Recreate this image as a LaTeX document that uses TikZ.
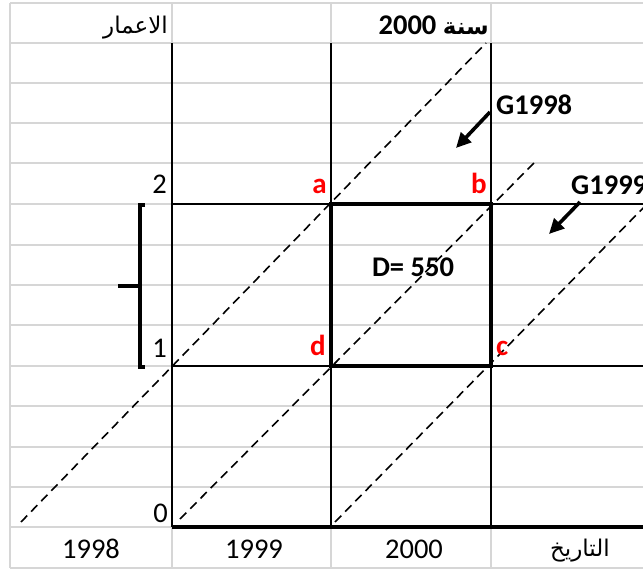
\documentclass[tikz,border=0pt]{standalone}
\usepackage{fontspec}
\setmainfont{Carlito}
\newfontfamily\arabicfont[Script=Arabic]{DejaVu Sans}
\TeXXeTstate=1
\usetikzlibrary{arrows.meta}
\definecolor{gridgray}{RGB}{214,214,214}
\definecolor{ptred}{RGB}{255,0,0}
\begin{document}
\begin{tikzpicture}[x=1pt,y=-1pt,
  gridline/.style={draw=gridgray, line width=2pt},
  blackline/.style={draw=black, line width=2.4pt},
  baseline3/.style={draw=black, line width=3.4pt},
  boxline/.style={draw=black, line width=4.5pt},
  lbl/.style={inner sep=0pt, font=\fontsize{28.5}{30}\selectfont},
  boldlbl/.style={inner sep=0pt, font=\fontsize{28.5}{30}\selectfont\bfseries},
  ptlbl/.style={inner sep=0pt, text=ptred, font=\fontsize{29}{30}\selectfont\bfseries},
  arlbl/.style={inner sep=0pt, font=\arabicfont\fontsize{23}{26}\selectfont},
  diag/.style={draw=black, dash pattern=on 9pt off 5.5pt, line width=1.6pt},
  pointer/.style={draw=black, -{Triangle[length=15pt,width=14pt]}, line width=3.6pt},
  bracketline/.style={draw=black, line width=3.4pt}]
\useasboundingbox (0,0) rectangle (643,572);
\clip (0,0) rectangle (643,572);
\fill[white] (0,0) rectangle (643,572);

% light grid
\foreach \yy in {3,43,83,123,163,204,245,285,325,366,406,447,487,527,568}
  \draw[gridline] (10,\yy) -- (643,\yy);
\foreach \xx in {10,172,331,491}
  \draw[gridline] (\xx,3) -- (\xx,568);

% black frame lines
\coordinate (v1t) at (172,43); \coordinate (v1b) at (172,527);
\coordinate (v2t) at (331,43); \coordinate (v2b) at (331,527);
\coordinate (v3t) at (491,43); \coordinate (v3b) at (491,527);
\coordinate (h1l) at (172,204); \coordinate (h1r) at (643,204);
\coordinate (h2l) at (172,366); \coordinate (h2r) at (643,366);
\coordinate (h3l) at (172,527); \coordinate (h3r) at (643,527);
\draw[blackline] (v1t) -- (v1b);
\draw[blackline] (v2t) -- (v2b);
\draw[blackline] (v3t) -- (v3b);
\draw[blackline] (h1l) -- (h1r);
\draw[blackline] (h2l) -- (h2r);
\draw[baseline3] (h3l) -- (h3r);

% corners of the Lexis square
\coordinate (pa) at (331,204);
\coordinate (pb) at (491,204);
\coordinate (pc) at (491,366);
\coordinate (pd) at (331,366);
\draw[boxline] (pa) -- (pb) -- (pc) -- (pd) -- cycle;

% dashed life lines
\coordinate (l1s) at (21,522); \coordinate (l1e) at (486,43);
\coordinate (l2s) at (180,519); \coordinate (l2e) at (535,162);
\coordinate (l3s) at (335,522); \coordinate (l3e) at (650,201);
\draw[diag] (l1s) -- (l1e);
\draw[diag] (l2s) -- (l2e);
\draw[diag] (l3s) -- (l3e);

% bracket
\coordinate (bt1) at (145,205); \coordinate (bt2) at (140,205);
\coordinate (bb2) at (140,367); \coordinate (bb1) at (145,367);
\coordinate (bm1) at (140,286); \coordinate (bm2) at (118,286);
\draw[bracketline] (bt1) -- (bt2) -- (bb2) -- (bb1);
\draw[bracketline] (bm1) -- (bm2);

% header texts
\node[arlbl, anchor=base east] (ages) at (168,34) {\beginR الاعمار\endR};
\node[boldlbl, anchor=base east] (year) at (489,35) {2000 {\arabicfont\bfseries\fontsize{23}{26}\selectfont\beginR سنة\endR}};

% age labels
\node[lbl, anchor=base east] (age2) at (167,194) {2};
\node[lbl, anchor=base east] (age1) at (167,357) {1};
\node[lbl, anchor=base east] (age0) at (168,522) {0};

% point labels
\node[ptlbl, anchor=base east] (la) at (327,194) {a};
\node[ptlbl, anchor=base east] (lb) at (487,194) {b};
\node[ptlbl, anchor=base east] (ld) at (326,355) {d};
\node[ptlbl, anchor=base west] (lc) at (496,355) {c};

\node[boldlbl, anchor=base] (dval) at (413,277) {D= 550};

% generation labels and arrows
\node[boldlbl, anchor=base west] (g98) at (496,115) {G1998};
\node[boldlbl, anchor=base west] (g99) at (571,195) {G1999};
\coordinate (a98s) at (490,112); \coordinate (a98e) at (456,148);
\coordinate (a99s) at (580,202); \coordinate (a99e) at (549,234);
\draw[pointer] (a98s) -- (a98e);
\draw[pointer] (a99s) -- (a99e);

% bottom row
\node[lbl, anchor=base] (y98) at (91,558) {1998};
\node[lbl, anchor=base] (y99) at (254,558) {1999};
\node[lbl, anchor=base] (y00) at (414,558) {2000};
\node[arlbl, anchor=base east] (dates) at (610,556) {\beginR التاريخ\endR};
\end{tikzpicture}
\end{document}
